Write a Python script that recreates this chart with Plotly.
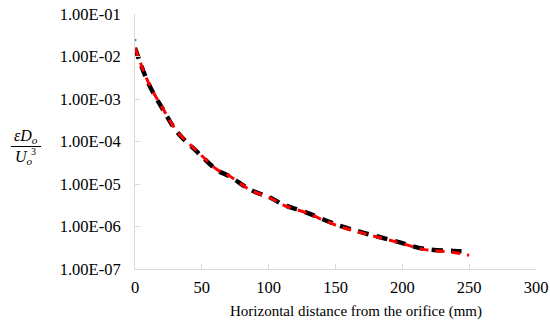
import plotly.graph_objects as go

# data
x_black = [0, 3.75, 7.5, 12.5, 21.2, 31.3, 46.3, 61.3, 71.3, 86.3, 101, 111, 128.8, 151, 171, 196, 216, 238.5, 246]
y_black = [1.58e-2, 7.4e-3, 3.6e-3, 1.63e-3, 5.5e-4, 1.7e-4, 5.8e-5, 2.14e-5, 1.48e-5, 7.3e-6, 4.8e-6, 3.25e-6,
           2.1e-6, 1.1e-6, 7.1e-7, 4.4e-7, 3.0e-7, 2.65e-7, 2.6e-7]
x_red = [0, 3.75, 7.5, 12.5, 21.2, 31.3, 46.3, 61.3, 71.3, 86.3, 101, 111, 128.8, 151, 171, 196, 216, 238.5, 250]
y_red = [1.6e-2, 7.6e-3, 3.7e-3, 1.7e-3, 5.7e-4, 1.75e-4, 6.0e-5, 2.2e-5, 1.5e-5, 7.2e-6, 4.7e-6, 3.2e-6,
         2.05e-6, 1.05e-6, 6.9e-7, 4.3e-7, 2.9e-7, 2.45e-7, 2.1e-7]
x_blue = [0, 1]
y_blue = [2.45e-2, 2.45e-2]

y_tickvals = [1e-7, 1e-6, 1e-5, 1e-4, 1e-3, 1e-2, 1e-1]
y_ticktext = ["1.00E-07", "1.00E-06", "1.00E-05", "1.00E-04", "1.00E-03", "1.00E-02", "1.00E-01"]
x_tickvals = [0, 50, 100, 150, 200, 250, 300]
x_title = "Horizontal distance from the orifice (mm)"

FONT = "Liberation Serif, Times New Roman, serif"
fig = go.Figure()
fig.add_trace(go.Scatter(x=x_blue, y=y_blue, mode="lines", line=dict(color="#4472C4", width=2), showlegend=False))
fig.add_trace(go.Scatter(x=x_black, y=y_black, mode="lines", line=dict(color="black", width=4.5, dash="11px,8px", shape="spline"), showlegend=False))
fig.add_trace(go.Scatter(x=x_red, y=y_red, mode="lines", line=dict(color="red", width=3, dash="9px,7px", shape="spline"), showlegend=False))

fig.update_layout(
    width=550, height=324, autosize=False,
    margin=dict(l=135, r=14, t=14, b=55, pad=0),
    paper_bgcolor="white", plot_bgcolor="white",
    font=dict(family=FONT, size=16, color="black"),
    showlegend=False,
    xaxis=dict(range=[0, 300], tickvals=x_tickvals, showgrid=False, zeroline=False, automargin=False,
               showline=True, linecolor="#d9d9d9", linewidth=1,
               ticks="inside", ticklen=5, tickcolor="#d9d9d9", ticklabelstandoff=3,
               tickfont=dict(family=FONT, size=16.5)),
    yaxis=dict(type="log", range=[-7, -1], tickvals=y_tickvals, ticktext=y_ticktext, showgrid=False, zeroline=False,
               automargin=False,
               showline=True, linecolor="#d9d9d9", linewidth=1,
               ticks="inside", ticklen=5, tickcolor="#d9d9d9", ticklabelstandoff=10,
               tickfont=dict(family=FONT, size=16.5)),
)

def px2x(px):
    return (px - 135) / 401.0

def py2y(py):
    return (269 - py) / 255.0

fig.add_annotation(x=px2x(356), y=py2y(311), xref="paper", yref="paper", showarrow=False,
                   text=x_title, font=dict(family=FONT, size=15), xanchor="center", yanchor="middle")
fig.add_annotation(x=px2x(26), y=py2y(136), xref="paper", yref="paper", showarrow=False,
                   text="<i>εD</i><sub><i>o</i></sub>", font=dict(family=FONT, size=16), xanchor="center", yanchor="middle")
fig.add_annotation(x=px2x(24), y=py2y(157), xref="paper", yref="paper", showarrow=False,
                   text="<i>U</i><sub><i>o</i></sub>", font=dict(family=FONT, size=16), xanchor="center", yanchor="middle")
fig.add_annotation(x=px2x(34), y=py2y(151), xref="paper", yref="paper", showarrow=False,
                   text="3", font=dict(family=FONT, size=10), xanchor="center", yanchor="middle")
fig.add_shape(type="line", xref="paper", yref="paper", x0=px2x(11), x1=px2x(41), y0=py2y(146.5), y1=py2y(146.5),
              line=dict(color="black", width=1))

fig.write_html("out.html")
